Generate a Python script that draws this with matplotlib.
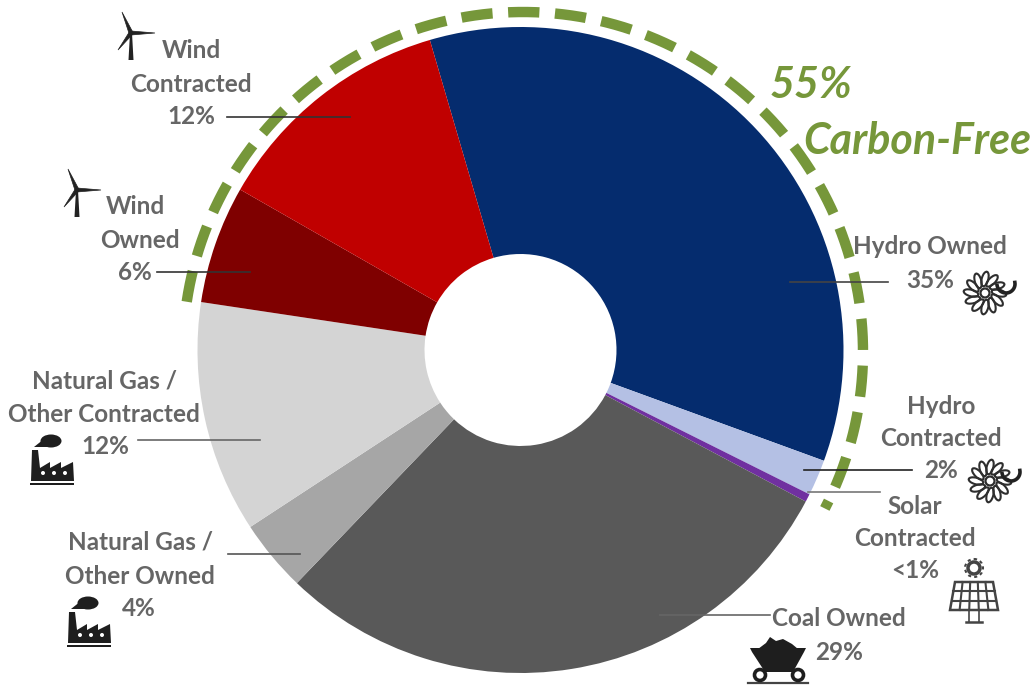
#!/usr/bin/env python3
"""Generation mix donut with carbon-free arc."""
import numpy as np
import matplotlib
matplotlib.use("Agg")
import matplotlib.pyplot as plt
from matplotlib.patches import Circle, Ellipse, Polygon, Rectangle

plt.rcParams["font.family"] = ["Lato", "DejaVu Sans"]

sources = ["Hydro Owned", "Hydro Contracted", "Solar Contracted", "Coal Owned",
           "Natural Gas / Other Owned", "Natural Gas / Other Contracted",
           "Wind Owned", "Wind Contracted"]
shares = [35.1, 1.8, 0.4, 29.4, 3.6, 11.6, 5.9, 12.2]
colors = ["#052c6e", "#b4c0e4", "#7030a0", "#595959",
          "#a6a6a6", "#d4d4d4", "#7f0000", "#c00000"]

GREY = "#666666"
GREEN = "#76973a"
CX, CY, R = 520.5, 350, 323

fig = plt.figure(figsize=(10.33, 6.86), dpi=100)
ax = fig.add_axes([0, 0, 1, 1])
ax.pie(shares, colors=colors, startangle=-106.3, counterclock=True, center=(CX, CY),
       radius=R, wedgeprops=dict(width=R - 96, linewidth=0), frame=True)
ax.set_xlim(0, 1033)
ax.set_ylim(686, 0)
ax.set_aspect("equal")
ax.axis("off")

# carbon free arc
theta = np.radians(np.linspace(171.5, -27.4, 400))
ax.plot(523 + 340 * np.cos(theta), 352 - 340 * np.sin(theta), color=GREEN, lw=7.5,
        linestyle=(0, (3.0, 1.5)), dash_capstyle="butt", zorder=3)

# leader lines
leaders = [(227, 350, 117, "#333333"), (157, 250, 272, "#333333"), (138, 260, 440, "#666666"),
           (228, 300, 554, "#555555"), (660, 770, 615, "#666666"), (790, 888, 282, "#444444"),
           (804, 912, 470, "#222222"), (808, 880, 492, "#777777")]
for x0, x1, y, c in leaders:
    ax.plot([x0, x1], [y, y], color=c, lw=1.2, zorder=4)

labels = [("Wind", 191, 50), ("Contracted", 191, 84), ("12%", 191, 116),
          ("Wind", 135, 206), ("Owned", 140, 239), ("6%", 135, 272),
          ("Natural Gas /", 104, 380), ("Other Contracted", 104, 413), ("12%", 105, 446),
          ("Natural Gas /", 140, 541), ("Other Owned", 140, 575), ("4%", 139, 607),
          ("Hydro Owned", 930, 246), ("35%", 930, 280),
          ("Hydro", 941, 405), ("Contracted", 941, 438), ("2%", 941, 470),
          ("Solar", 915, 505), ("Contracted", 915, 538), ("<1%", 915, 570),
          ("Coal Owned", 839, 618), ("29%", 839, 651)]
for s, x, y in labels:
    ax.text(x, y + 1, s, ha="center", va="center", fontsize=17.5, fontweight="bold", color=GREY)
ax.text(811, 85, "55%", ha="center", va="center", fontsize=31, fontweight="bold",
        style="italic", color=GREEN)
ax.text(917, 141, "Carbon-Free", ha="center", va="center", fontsize=31, fontweight="bold",
        style="italic", color=GREEN)


def turbine(x, y):
    ink = "#222222"
    ax.add_patch(Polygon([(x - 1, y), (x + 1, y), (x + 2.5, y + 27), (x - 2.5, y + 27)],
                         color=ink, lw=0))
    for dx, dy in [(-9, -21), (24, 0), (-13, 17)]:
        n = np.array([-dy, dx]) / np.hypot(dx, dy) * 2
        ax.add_patch(Polygon([(x + n[0], y + n[1]), (x - n[0], y - n[1]), (x + dx, y + dy)],
                             color=ink, lw=0.5))


def factory(x, y):
    ink = "#1e1e1e"
    ax.add_patch(Ellipse((x + 21, y + 6), 21, 13, color=ink, lw=0))
    ax.add_patch(Polygon([(x + 4, y + 12), (x + 14, y + 4), (x + 22, y + 12)], color=ink, lw=0))
    pts = [(x + 1, y + 46), (x + 2, y + 15), (x + 8, y + 15), (x + 10, y + 33), (x + 20, y + 27),
           (x + 20, y + 33), (x + 31, y + 27), (x + 31, y + 33), (x + 43, y + 27), (x + 44, y + 46)]
    ax.add_patch(Polygon(pts, color=ink, lw=0))
    ax.add_patch(Rectangle((x, y + 48), 44, 2, color=ink, lw=0))
    for dx in (13, 24, 35):
        ax.add_patch(Circle((x + dx, y + 38), 2, color="white", lw=0))


def hydro(x, y):
    ink = "#2e2e2e"
    for a in np.arange(0, 360, 30):
        rad = np.radians(a)
        ax.add_patch(Ellipse((x + 14 * np.cos(rad), y + 14 * np.sin(rad)), 15, 6.5, angle=a + 15,
                             fill=False, ec=ink, lw=1.5))
    ax.add_patch(Circle((x, y), 4.5, fill=False, ec=ink, lw=1.6))
    t = np.radians(np.linspace(-10, 170, 30))
    ax.plot(x + 21 + 9 * np.cos(t), y - 9 + 9 * np.sin(t), color="#222222", lw=2.6)


def solar(x, y):
    ink = "#444444"
    ax.add_patch(Circle((x, y), 6, fill=False, ec=ink, lw=2.5))
    ax.add_patch(Circle((x, y), 9, fill=False, ec=ink, lw=1.5, linestyle=(0, (1.5, 1.5))))
    panel = [(x - 19, y + 14), (x + 19, y + 14), (x + 24, y + 42), (x - 24, y + 42)]
    ax.add_patch(Polygon(panel, fill=False, ec=ink, lw=1.8))
    for f in (1 / 3, 2 / 3):
        ax.plot([x - 19 - 5 * f, x + 19 + 5 * f], [y + 14 + 28 * f] * 2, color=ink, lw=1.5)
    for f in (-0.6, -0.2, 0.2, 0.6):
        ax.plot([x + 19 * f, x + 24 * f], [y + 14, y + 42], color=ink, lw=1.5)
    ax.plot([x - 5, x - 5], [y + 42, y + 54], color=ink, lw=1.2)
    ax.plot([x + 5, x + 5], [y + 42, y + 54], color=ink, lw=1.2)
    ax.plot([x - 8, x + 8], [y + 54, y + 54], color=ink, lw=1.8)


def cart(x, y):
    ink = "#1e1e1e"
    ax.add_patch(Polygon([(x, y + 11), (x + 56, y + 11), (x + 54, y + 15), (x + 43, y + 35),
                          (x + 15, y + 35), (x + 2, y + 15)], color=ink, lw=0))
    ax.add_patch(Polygon([(x + 8, y + 12), (x + 16, y + 6), (x + 20, y), (x + 26, y + 4), (x + 33, y + 2),
                          (x + 42, y + 7), (x + 48, y + 12)], color=ink, lw=0))
    for dx in (10, 48):
        ax.add_patch(Circle((x + dx, y + 38), 5.5, fc="white", ec=ink, lw=2.6, zorder=4))
    ax.plot([x - 2, x + 58], [y + 45.5, y + 45.5], color="#444444", lw=1.6)


turbine(131, 33)
turbine(77, 190)
factory(30, 435)
factory(67, 597)
hydro(985, 293)
hydro(990, 481)
solar(974, 568)
cart(750, 637)

fig.savefig("out.png", dpi=100)
